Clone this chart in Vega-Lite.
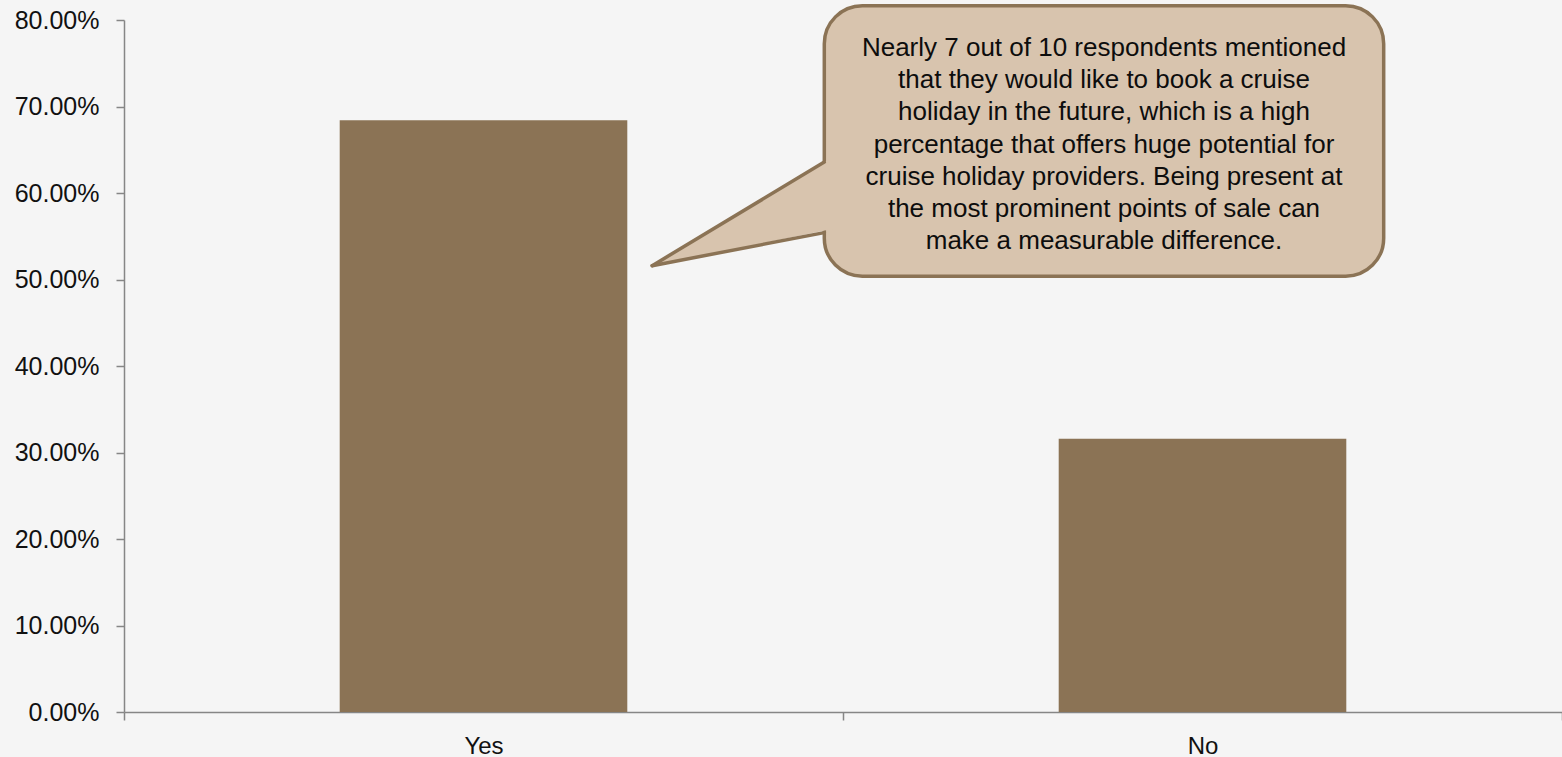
{
  "$schema": "https://vega.github.io/schema/vega-lite/v6.json",
  "width": 1438,
  "height": 692,
  "autosize": "none",
  "padding": {"left": 124, "top": 20, "right": 0, "bottom": 45},
  "background": "#f5f5f5",
  "config": {
    "view": {"stroke": null},
    "font": "Liberation Sans",
    "axis": {"grid": false, "labelFont": "Liberation Sans", "labelColor": "#111111", "domainColor": "#868686", "tickColor": "#868686", "domainWidth": 1.5, "tickWidth": 1.5, "tickSize": 8}
  },
  "datasets": {
    "answers": [
      {"answer": "Yes", "share": 0.684},
      {"answer": "No", "share": 0.316}
    ],
    "box": [{"x0": 0.974, "x1": 1.752, "y0": 0.8165, "y1": 0.5038}],
    "pointer": [
      {"px": 0.7346, "ptop": 0.516, "pbot": 0.516},
      {"px": 0.9854, "ptop": 0.6416, "pbot": 0.5584}
    ],
    "edges": [
      {"ex0": 0.7346, "ey0": 0.516, "ex1": 0.974, "ey1": 0.6358},
      {"ex0": 0.7346, "ey0": 0.516, "ex1": 0.974, "ey1": 0.5542}
    ],
    "note": [
      {"nx": 1.363, "ny": 0.7584, "note": "Nearly 7 out of 10 respondents mentioned\nthat they would like to book a cruise\nholiday in the future, which is a high\npercentage that offers huge potential for\ncruise holiday providers. Being present at\nthe most prominent points of sale can\nmake a measurable difference."}
    ]
  },
  "resolve": {"scale": {"x": "independent"}},
  "layer": [
    {
      "data": {"name": "answers"},
      "mark": {"type": "bar", "color": "#8b7355", "width": {"band": 0.4}},
      "encoding": {
        "x": {
          "field": "answer", "type": "nominal", "sort": null,
          "scale": {"paddingInner": 0, "paddingOuter": 0},
          "axis": {"title": null, "labelAngle": 0, "labelFontSize": 24, "labelPadding": 14, "tickBand": "extent"}
        },
        "y": {
          "field": "share", "type": "quantitative",
          "scale": {"domain": [0, 0.8], "nice": false},
          "axis": {"title": null, "values": [0, 0.1, 0.2, 0.3, 0.4, 0.5, 0.6, 0.7, 0.8], "format": ".2%", "labelFontSize": 25, "labelPadding": 17}
        }
      }
    },
    {
      "layer": [
        {
          "data": {"name": "box"},
          "mark": {"type": "rect", "fill": "#d8c4ae", "stroke": "#8b7355", "strokeWidth": 3.5, "cornerRadius": 38},
          "encoding": {
            "x": {"field": "x0", "type": "quantitative", "scale": {"domain": [0, 2], "nice": false, "zero": false}, "axis": null},
            "x2": {"field": "x1"},
            "y": {"field": "y0", "type": "quantitative", "title": null},
            "y2": {"field": "y1"}
          }
        },
        {
          "data": {"name": "pointer"},
          "mark": {"type": "area", "fill": "#d8c4ae", "opacity": 1},
          "encoding": {
            "x": {"field": "px", "type": "quantitative", "axis": null},
            "y": {"field": "ptop", "type": "quantitative", "title": null},
            "y2": {"field": "pbot"}
          }
        },
        {
          "data": {"name": "edges"},
          "mark": {"type": "rule", "color": "#8b7355", "strokeWidth": 3.5, "strokeCap": "round"},
          "encoding": {
            "x": {"field": "ex0", "type": "quantitative", "axis": null},
            "x2": {"field": "ex1"},
            "y": {"field": "ey0", "type": "quantitative", "title": null},
            "y2": {"field": "ey1"}
          }
        },
        {
          "data": {"name": "note"},
          "mark": {"type": "text", "align": "center", "baseline": "alphabetic", "fontSize": 26, "lineHeight": 32.2, "lineBreak": "\n", "color": "#0d0d0d", "font": "Liberation Sans"},
          "encoding": {
            "x": {"field": "nx", "type": "quantitative", "axis": null},
            "y": {"field": "ny", "type": "quantitative", "title": null},
            "text": {"field": "note", "type": "nominal"}
          }
        }
      ]
    }
  ]
}
